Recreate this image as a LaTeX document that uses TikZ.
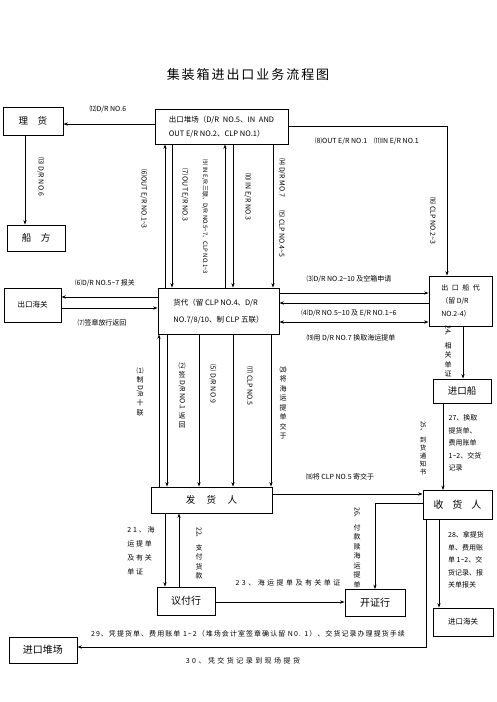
\documentclass[tikz,border=0pt]{standalone}
\usepackage{fontspec}
\newfontfamily\cjk{Noto Sans CJK SC}
\usetikzlibrary{arrows.meta}
\newcommand{\tl}{\textasciitilde}

\begin{document}
\begin{tikzpicture}[x=1pt, y=-1pt,
        box/.style={rectangle, draw=black, line width=0.8pt, inner sep=2pt, font=\cjk\fontsize{9.5}{11}\selectfont},
        smallbox/.style={box, align=left, font=\cjk\fontsize{7.5}{14}\selectfont},
        lab/.style={inner sep=0pt, font=\cjk\fontsize{7}{8}\selectfont},
        widelab/.style={lab, font=\cjk\fontsize{7}{8}\selectfont\addfontfeature{LetterSpace=35}},
        rlab/.style={lab, rotate=-90},
        vlab/.style={lab, align=center, font=\cjk\fontsize{7}{9.5}\selectfont},
        blocklab/.style={lab, align=left, font=\cjk\fontsize{7}{12.5}\selectfont},
        edge/.style={draw=black, line width=0.7pt, -{Stealth[length=4.5pt,width=3.2pt]}},
        edge2/.style={edge, {Stealth[length=4.5pt,width=3.2pt]}-{Stealth[length=4.5pt,width=3.2pt]}}
    ]
    \useasboundingbox (0,0) rectangle (496,702);

    \node [font=\cjk\fontsize{13}{15}\selectfont\addfontfeature{LetterSpace=15}] (title) at (248,75) {集装箱进出口业务流程图};

    % boxes
    \node [box, minimum width=60pt, minimum height=28pt] (lihuo) at (33,121) {理\quad 货};
    \node [box, minimum width=58pt, minimum height=26pt] (chuanfang) at (36,238) {船\quad 方};
    \node [smallbox, minimum width=133pt, minimum height=35pt] (yard) at (221.5,126.5) {出口堆场（D/R\enspace NO.5、IN\enspace AND\\OUT E/R NO.2、CLP NO.1）};
    \node [smallbox, minimum width=121pt, minimum height=46pt, font=\cjk\fontsize{7.5}{17}\selectfont] (huodai) at (218.5,311) {货代（留 CLP NO.4、D/R\\NO.7/8/10、制 CLP 五联）};
    \node [smallbox, minimum width=63pt, minimum height=50pt, font=\cjk\fontsize{7}{13}\selectfont] (chuanDai) at (460.5,301) {出\enspace 口\enspace 船\enspace 代\\（留 D/R\\NO.2-4）};
    \node [box, minimum width=57pt, minimum height=34pt, font=\cjk\fontsize{7.5}{9}\selectfont] (customsOut) at (32.5,305) {出口海关};
    \node [box, minimum width=121pt, minimum height=26pt] (shipper) at (211.5,500) {发\hspace{1.2em}货\hspace{1.2em}人};
    \node [box, minimum width=69pt, minimum height=29pt, font=\cjk\fontsize{10}{12}\selectfont] (consignee) at (457.5,505) {收\hspace{0.9em}货\hspace{0.9em}人};
    \node [box, minimum width=58pt, minimum height=24pt] (ship) at (462,391) {进口船};
    \node [box, minimum width=58pt, minimum height=28pt, font=\cjk\fontsize{10}{12}\selectfont] (negBank) at (186,601) {议付行};
    \node [box, minimum width=60pt, minimum height=27pt, font=\cjk\fontsize{10}{12}\selectfont] (issBank) at (375,603) {开证行};
    \node [box, minimum width=60pt, minimum height=28pt, font=\cjk\fontsize{7.5}{9}\selectfont] (customsIn) at (463,622) {进口海关};
    \node [box, minimum width=68pt, minimum height=26pt, font=\cjk\fontsize{10}{12}\selectfont] (yardIn) at (43,650) {进口堆场};

    % connectors
    \draw [edge] (yard.west |- 0,124) -- (lihuo.east |- 0,124);
    \draw [edge] (lihuo.south -| 25,0) -- (chuanfang.north -| 25,0);
    \foreach \xx in {165,225}
        \draw [edge] (huodai.north -| \xx,0) -- (yard.south -| \xx,0);
    \foreach \xx in {172,233,273}
        \draw [edge] (yard.south -| \xx,0) -- (huodai.north -| \xx,0);
    \draw [edge] (yard.east) -| (chuanDai.north -| 447,0);
    \draw [edge] (huodai.east |- 0,293) -- (chuanDai.west |- 0,293);
    \draw [edge] (chuanDai.west |- 0,303) -- (huodai.east |- 0,303);
    \draw [edge2] (huodai.east |- 0,322) -- (chuanDai.west |- 0,322);
    \draw [edge] (huodai.west |- 0,297) -- (customsOut.east |- 0,297);
    \draw [edge] (customsOut.east |- 0,308) -- (huodai.west |- 0,308);
    \draw [edge] (shipper.north -| 159,0) -- (huodai.south -| 159,0);
    \foreach \xx in {167,199,233,271}
        \draw [edge] (huodai.south -| \xx,0) -- (shipper.north -| \xx,0);
    \draw [edge] (shipper.east |- 0,494) -- (consignee.west |- 0,494);
    \draw [edge] (chuanDai.south -| 463,0) -- (ship.north -| 463,0);
    \draw [edge] (ship.south -| 443,0) -- (consignee.north -| 443,0);
    \draw [edge] (shipper.south -| 165,0) -- (negBank.north -| 165,0);
    \draw [edge] (negBank.north -| 179,0) -- (shipper.south -| 179,0);
    \draw [edge] (negBank.east |- 0,602) -- (issBank.west |- 0,602);
    \draw [edge] (consignee.west |- 0,503) -| (issBank.north);
    \draw [edge] (consignee.south -| 439,0) -- (customsIn.north -| 439,0);
    \draw [edge] (consignee.south -| 426,0) |- (yardIn.east |- 0,647);

    % labels
    \node [lab] (l12) at (108,109) {⑿D/R NO.6};
    \node [rlab] (l13) at (41,177) {⒀ D/R NO.6};
    \node [rlab] (l6) at (144,199) {⑹OUT E/R NO.1\tl 3};
    \node [rlab] (l7) at (185,195) {⑺ OUT E/R NO.3};
    \node [rlab, font=\cjk\fontsize{6}{7}\selectfont] (l9) at (205,217) {⑼ IN E/R 三联、D/R NO.5\tl 7、CLP NO.1\tl 3};
    \node [rlab] (l10) at (248,197) {⑽ IN E/R NO.3};
    \node [rlab] (l14) at (282,178) {⒁ D/R MO.7};
    \node [rlab] (l15) at (282,234) {⒂ CLP NO.4\tl 5};
    \node [lab] (l8) at (367,141) {⑻OUT E/R NO.1\quad ⑾IN E/R NO.1};
    \node [rlab] (l16) at (433,221) {⒃ CLP NO.2\tl 3};
    \node [lab] (l3) at (349,279) {⑶D/R NO.2\tl 10 及空箱申请};
    \node [lab] (l4) at (349,313) {⑷D/R NO.5\tl 10 及 E/R NO.1\tl 6};
    \node [lab] (l19) at (351,338) {⒆用 D/R NO.7 换取海运提单};
    \node [lab] (l6b) at (105,283) {⑹D/R NO.5\tl 7 报关};
    \node [lab] (l7b) at (102,323) {⑺签章放行返回};

    \node [vlab, anchor=north] (l1a) at (140,367) {⑴\\制};
    \node [rlab, anchor=west] (l1b) at ([yshift=-2pt]l1a.south) {D/R};
    \node [vlab, anchor=north] (l1c) at ([yshift=-2pt]l1b.east) {十\\联};
    \node [vlab, anchor=north] (l2a) at (182,362) {⑵\\签};
    \node [rlab, anchor=west] (l2b) at ([yshift=-2pt]l2a.south) {D/R NO.1};
    \node [vlab, anchor=north] (l2c) at ([yshift=-2pt]l2b.east) {返\\回};
    \node [rlab] (l5) at (213,384) {⑸ D/R NO.9};
    \node [rlab] (l17) at (250,386) {⒄ CLP NO.5};
    \node [vlab] (l20) at (283,403) {⒇\\将\\海\\运\\提\\单\\交\\于};
    \node [lab] (l18) at (340,477) {⒅将 CLP NO.5 寄交于};

    \node [rlab, anchor=west] (l24a) at (448,325) {24、};
    \node [vlab, anchor=north] (l24b) at ([yshift=-2pt]l24a.east) {相\\关\\单\\证};
    \node [rlab, anchor=west, font=\cjk\fontsize{6.5}{8}\selectfont] (l25a) at (423,421) {25、};
    \node [vlab, anchor=north, font=\cjk\fontsize{6.5}{8}\selectfont] (l25b) at ([yshift=-2pt]l25a.east) {到\\货\\通\\知\\书};
    \node [blocklab] (l27) at (465,443) {27、换取\\提货单、\\费用账单\\1\tl 2、交货\\记录};
    \node [blocklab] (l28) at (466,560) {28、拿提货\\单、费用账\\单 1\tl 2、交\\货记录、报\\关单报关};
    \node [blocklab, font=\cjk\fontsize{7}{14}\selectfont\addfontfeature{LetterSpace=25}] (l21) at (141,551) {21、海\\运提单\\及有关\\单证};
    \node [rlab, anchor=west] (l22a) at (199,527) {22、};
    \node [vlab, anchor=north] (l22b) at ([yshift=-2pt]l22a.east) {支\\付\\货\\款};
    \node [rlab, anchor=west] (l26a) at (357,507) {26、};
    \node [vlab, anchor=north] (l26b) at ([yshift=-2pt]l26a.east) {付\\款\\赎\\海\\运\\提\\单};
    \node [widelab] (l23) at (288,583) {23、海运提单及有关单证};
    \node [lab, font=\cjk\fontsize{7}{8}\selectfont\addfontfeature{LetterSpace=15}] (l29) at (248,634) {29、凭提货单、费用账单 1\tl 2（堆场会计室签章确认留 N0. 1）、交货记录办理提货手续};
    \node [widelab] (l30) at (243,661) {30、凭交货记录到现场提货};
\end{tikzpicture}
\end{document}
